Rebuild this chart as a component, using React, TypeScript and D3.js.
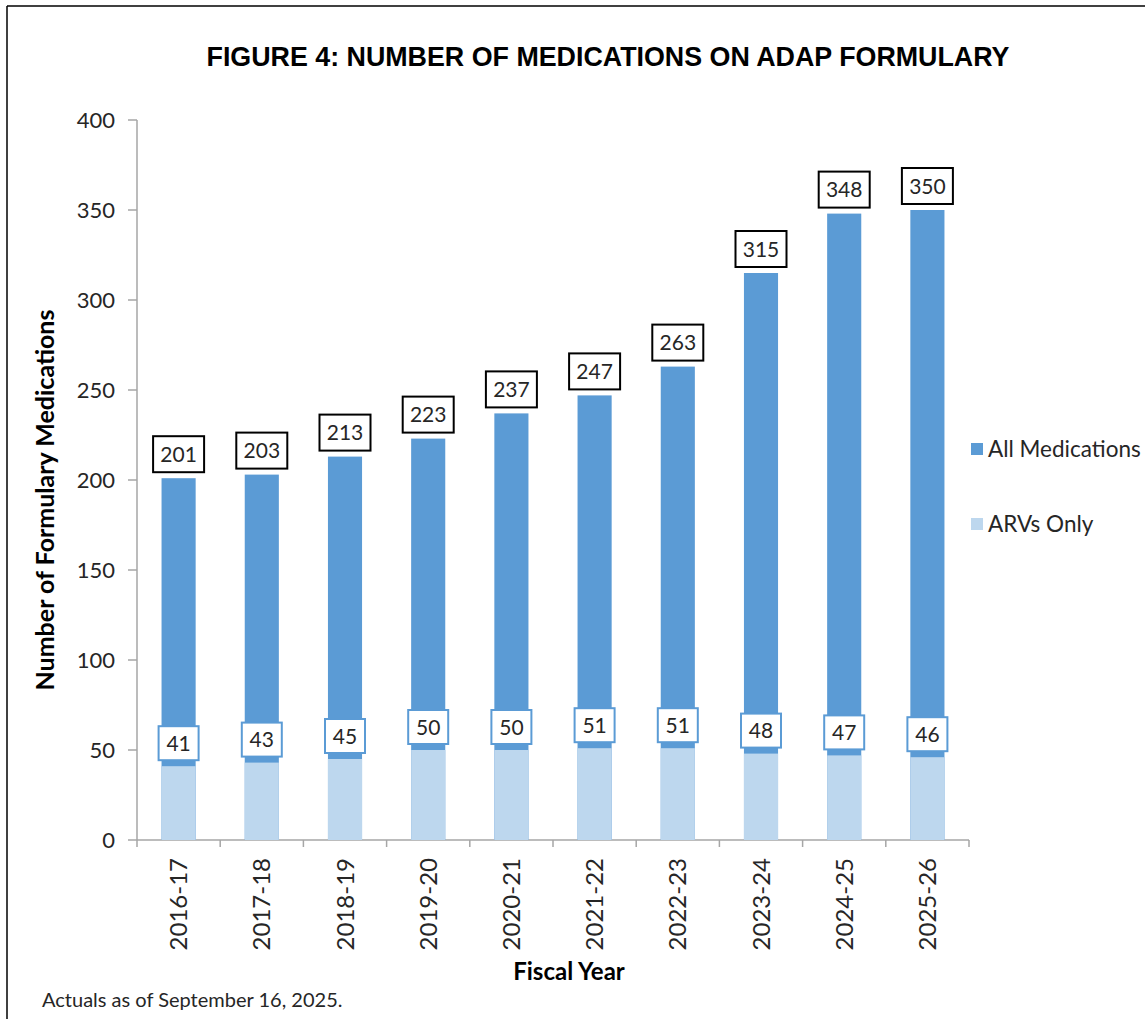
import React from 'react';
import * as d3 from 'd3';

const years = ['2016-17', '2017-18', '2018-19', '2019-20', '2020-21', '2021-22', '2022-23', '2023-24', '2024-25', '2025-26'];
const allMeds = [201, 203, 213, 223, 237, 247, 263, 315, 348, 350];
const arvsOnly = [41, 43, 45, 50, 50, 51, 51, 48, 47, 46];
const yTicks = [0, 50, 100, 150, 200, 250, 300, 350, 400];
const legendItems = ['All Medications', 'ARVs Only'];

const DARK = '#5B9BD5';
const LIGHT = '#BDD7EE';
const FONT = 'Lato, "DejaVu Sans", sans-serif';

const App = () => {
  // plot frame
  const left = 137, right = 969, top = 120, bottom = 840;

  const x = d3.scaleBand().domain(years).range([left, right]).paddingInner(0.59).paddingOuter(0.295);
  const band = (right - left) / years.length;
  const y = d3.scaleLinear().domain([0, 400]).range([bottom, top]);
  const center = (d: string) => (x(d) as number) + x.bandwidth() / 2;

  const colors = [DARK, LIGHT];

  return (
    <svg width={1145} height={1019} style={{ position: 'absolute', left: 0, top: 0, background: '#fff' }} fontFamily={FONT}>
      {/* outer border */}
      <line x1={7} y1={6} x2={1145} y2={6} stroke="#000" strokeWidth={1.5} />
      <line x1={7} y1={6} x2={7} y2={1019} stroke="#000" strokeWidth={1.5} />

      <text x={608} y={66} textAnchor="middle" fontSize={28} fontWeight="bold" fill="#000"
        textLength={803} lengthAdjust="spacingAndGlyphs" fontFamily='"Liberation Sans", Arial, sans-serif'>
        FIGURE 4: NUMBER OF MEDICATIONS ON ADAP FORMULARY
      </text>

      {/* y axis */}
      <line x1={left} y1={top} x2={left} y2={bottom} stroke="#A6A6A6" strokeWidth={1.5} />
      {yTicks.map(t => (
        <g key={t}>
          <line x1={left - 9} x2={left} y1={y(t)} y2={y(t)} stroke="#A6A6A6" strokeWidth={1.5} />
          <text x={115} y={y(t)} dy="0.35em" textAnchor="end" fontSize={22} fill="#262626">{t}</text>
        </g>
      ))}

      {/* x axis */}
      <line x1={left} y1={bottom} x2={right} y2={bottom} stroke="#A6A6A6" strokeWidth={1.5} />
      {d3.range(years.length + 1).map(i => (
        <line key={i} x1={left + i * band} x2={left + i * band} y1={bottom} y2={bottom + 7} stroke="#A6A6A6" strokeWidth={1.5} />
      ))}
      {years.map(d => (
        <text key={d} transform={`translate(${center(d)},${bottom + 18}) rotate(-90)`} textAnchor="end" dy="0.36em"
          fontSize={24} fill="#262626">{d}</text>
      ))}

      {/* bars: all medications behind, ARVs in front */}
      {years.map((d, i) => (
        <rect key={'a' + d} x={x(d)} y={y(allMeds[i])} width={x.bandwidth()} height={bottom - y(allMeds[i])} fill={DARK} />
      ))}
      {years.map((d, i) => (
        <rect key={'r' + d} x={x(d)} y={y(arvsOnly[i])} width={x.bandwidth()} height={bottom - y(arvsOnly[i])} fill={LIGHT} />
      ))}

      {/* total labels */}
      {years.map((d, i) => (
        <g key={'la' + d}>
          <rect x={center(d) - 25.5} y={y(allMeds[i]) - 42} width={51} height={36} fill="#fff" stroke="#000" strokeWidth={2} />
          <text x={center(d)} y={y(allMeds[i]) - 24} dy="0.36em" textAnchor="middle" fontSize={21} fill="#262626">{allMeds[i]}</text>
        </g>
      ))}
      {/* ARV labels */}
      {years.map((d, i) => (
        <g key={'lr' + d}>
          <rect x={center(d) - 20} y={y(arvsOnly[i]) - 40} width={40} height={34} fill="#fff" stroke={DARK} strokeWidth={2} />
          <text x={center(d)} y={y(arvsOnly[i]) - 23} dy="0.36em" textAnchor="middle" fontSize={21} fill="#262626">{arvsOnly[i]}</text>
        </g>
      ))}

      {/* axis titles */}
      <text transform="translate(45,500) rotate(-90)" textAnchor="middle" dy="0.35em" fontSize={25} fontWeight="bold" fill="#000">
        Number of Formulary Medications
      </text>
      <text x={569} y={972} dy="0.35em" textAnchor="middle" fontSize={24} fontWeight="bold" fill="#000">Fiscal Year</text>

      {/* legend */}
      {legendItems.map((name, i) => (
        <g key={name} transform={`translate(971,${449 + i * 75})`}>
          <rect x={0} y={-6} width={12} height={12} fill={colors[i]} />
          <text x={17} y={0} dy="0.35em" fontSize={22.5} fill="#262626">{name}</text>
        </g>
      ))}

      <text x={42} y={1000} dy="0.35em" fontSize={20} fill="#262626">Actuals as of September 16, 2025.</text>
    </svg>
  );
};

export default App;
